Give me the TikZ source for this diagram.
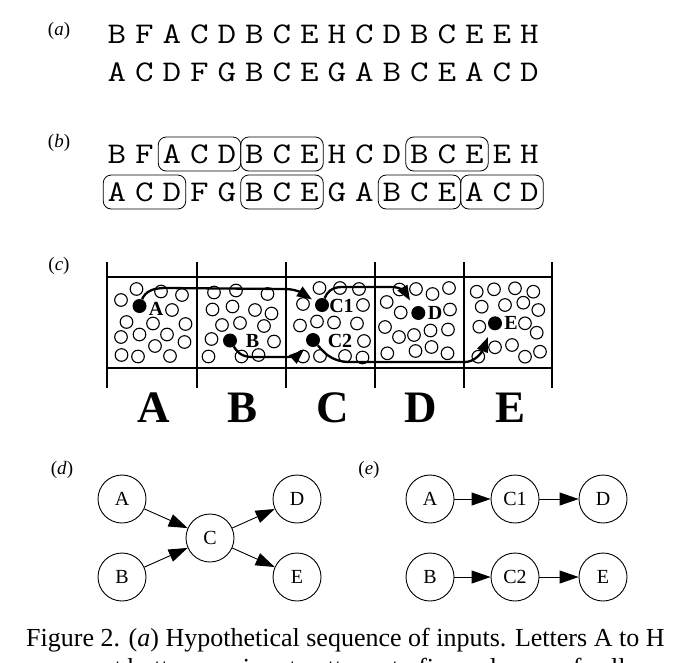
\documentclass[tikz,border=0pt]{standalone}
\usepackage{fontspec}
\setmainfont{Liberation Serif}
\usetikzlibrary{arrows.meta}
\begin{document}
\begin{tikzpicture}[x=1pt,y=-1pt,
  seq/.style={font=\fontsize{30}{30}\selectfont\ttfamily, inner sep=0pt, anchor=center},
  seqbox/.style={draw, line width=0.8pt, rounded corners=8pt},
  plab/.style={font=\fontsize{19}{19}\selectfont, inner sep=0pt},
  gridline/.style={line width=1.3pt},
  cellc/.style={line width=1.1pt},
  dot/.style={circle, fill=black, inner sep=0pt, minimum size=14pt},
  clab/.style={font=\fontsize{20}{20}\selectfont\bfseries, inner sep=0pt},
  collab/.style={font=\fontsize{45}{45}\selectfont\bfseries, inner sep=0pt},
  carrow/.style={line width=2.3pt, -{Triangle[length=15pt,width=11pt]}},
  gn/.style={circle, draw, line width=0.9pt, minimum size=48pt, inner sep=0pt, font=\fontsize{20}{20}\selectfont},
  garrow/.style={line width=0.9pt, -{Triangle[length=19pt,width=13pt]}},
  captxt/.style={font=\fontsize{26}{30}\selectfont, inner sep=0pt}
]
\clip (0,0) rectangle (674,662);
\fill[white] (0,0) rectangle (674,662);

% ---------- (a) ----------
\node[plab] (la) at (59,31) {(\textit{a})};
\foreach \ch [count=\i from 0] in {B,F,A,C,D,B,C,E,H,C,D,B,C,E,E,H}
  \node[seq] (a1-\i) at (117+27.5*\i,34) {\scalebox{1.2}[1]{\ch}};
\foreach \ch [count=\i from 0] in {A,C,D,F,G,B,C,E,G,A,B,C,E,A,C,D}
  \node[seq] (a2-\i) at (117+27.5*\i,72) {\scalebox{1.2}[1]{\ch}};

% ---------- (b) ----------
\node[plab] (lb) at (59,143) {(\textit{b})};
\foreach \ch [count=\i from 0] in {B,F,A,C,D,B,C,E,H,C,D,B,C,E,E,H}
  \node[seq] (b1-\i) at (117+27.5*\i,154) {\scalebox{1.2}[1]{\ch}};
\foreach \ch [count=\i from 0] in {A,C,D,F,G,B,C,E,G,A,B,C,E,A,C,D}
  \node[seq] (b2-\i) at (117+27.5*\i,192) {\scalebox{1.2}[1]{\ch}};
\foreach \s/\e in {2/4,5/7,11/13}
  \draw[seqbox] (103.25+27.5*\s,137) rectangle (130.75+27.5*\e,171);
\foreach \s/\e in {0/2,5/7,10/12,13/15}
  \draw[seqbox] (103.25+27.5*\s,175) rectangle (130.75+27.5*\e,209);

% ---------- (c) ----------
\node[plab] (lc) at (59,266) {(\textit{c})};
\foreach \x in {107,197,286,375,464,552}
  \draw[gridline] (\x,262) -- (\x,388);
\draw[gridline] (107,277) -- (552,277);
\draw[gridline] (107,368) -- (552,368);

% open circles
\foreach \x/\y in {136.5/289,161/291.5,182/295,121/300,172/310,126.5/322,153/323.5,185.5/324,
  121/337,139.5/334.5,167/334.5,184.5/342,155/346,121.5/355,138/356.5,170/356,
  214/292.5,236/290.5,267.5/294,212.5/309.5,232.5/306.5,255/310,271.5/313.5,222/325,240/323,264/326,
  211.5/339,274/341.5,208.5/356.5,241.5/356.5,258.5/355,
  319.5/288,340/288,359/289,303/304,363/305,300/325.5,317/321.5,334/322.5,357/323.5,
  364/341,303/356.5,320/356,345/356,362.5/357.5,
  399.5/289.5,416/289,432.5/294,449/288,386.7/302,400.7/312.5,450/309.5,385/327,399/337,
  414/335,430.5/330.5,448/329.5,387.3/353.3,415.5/351,431.5/347,447.5/353.3,
  476.7/291.7,494/289.3,515/288.3,533.3/291.7,481.7/306.7,505/305,523.3/302.7,538.3/310,
  479.3/326.7,525/323.3,536.7/332.7,478.3/356.7,495/347.3,512/345,525/356.7,540/351.7}
  \draw[cellc] (\x,\y) circle[radius=6.3];

% active cells
\node[dot] (dA) at (139.5,306) {};
\node[dot] (dB) at (230,340.5) {};
\node[dot] (dC1) at (322,305) {};
\node[dot] (dC2) at (313,340) {};
\node[dot] (dD) at (418.3,313) {};
\node[dot] (dE) at (495,323.3) {};
\node[clab] (tA) at (156,309) {A};
\node[clab] (tB) at (252.5,340.5) {B};
\node[clab] (tC1) at (341.5,305.5) {C1};
\node[clab] (tC2) at (340,341) {C2};
\node[clab] (tD) at (435,313) {D};
\node[clab] (tE) at (511,323.3) {E};

\coordinate (pC1) at (312,299.5);
\coordinate (pD) at (410,300.5);
\coordinate (pC2) at (304,349.5);
\coordinate (pE) at (488,337);
\draw[carrow] (dA) .. controls (145,292) and (152,288) .. (165,288) -- (285,289)
  .. controls (295,289) and (302,293) .. (pC1);
\draw[carrow] (dC1) .. controls (327,292) and (332,287) .. (342,287) -- (392,287)
  .. controls (400,287) and (405,292) .. (pD);
\draw[carrow] (dB) .. controls (236,350) and (240,357) .. (252,357) -- (288,357)
  .. controls (294,357) and (299,354) .. (pC2);
\draw[carrow] (dC2) .. controls (322,350) and (330,362) .. (350,362) -- (465,362)
  .. controls (475,362) and (482,352) .. (pE);

\node[collab] (colA) at (154,408) {A};
\node[collab] (colB) at (243,408) {B};
\node[collab] (colC) at (333,408) {C};
\node[collab] (colD) at (421,408) {D};
\node[collab] (colE) at (510,408) {E};

% ---------- (d) ----------
\node[plab] (ld) at (62,470) {(\textit{d})};
\node[gn] (nA) at (122,499) {A};
\node[gn] (nB) at (122,577) {B};
\node[gn] (nC) at (210,538) {C};
\node[gn] (nD) at (297,499) {D};
\node[gn] (nE) at (297,577) {E};
\draw[garrow] (nA) -- (nC);
\draw[garrow] (nB) -- (nC);
\draw[garrow] (nC) -- (nD);
\draw[garrow] (nC) -- (nE);

% ---------- (e) ----------
\node[plab] (le) at (369,470) {(\textit{e})};
\node[gn] (eA) at (430,499) {A};
\node[gn] (eC1) at (515,499) {C1};
\node[gn] (eD) at (603,499) {D};
\node[gn] (eB) at (430,577) {B};
\node[gn] (eC2) at (515,577) {C2};
\node[gn] (eE) at (603,577) {E};
\draw[garrow] (eA) -- (eC1);
\draw[garrow] (eC1) -- (eD);
\draw[garrow] (eB) -- (eC2);
\draw[garrow] (eC2) -- (eE);

% ---------- caption ----------
\node[captxt, anchor=base west] (cap1) at (26,646) {Figure 2. (\textit{a}) Hypothetical sequence of inputs. Letters A to H};
\node[captxt, anchor=base west] (cap2) at (26,676) {represent bottom-up input patterns to five columns of cells};
\end{tikzpicture}
\end{document}
